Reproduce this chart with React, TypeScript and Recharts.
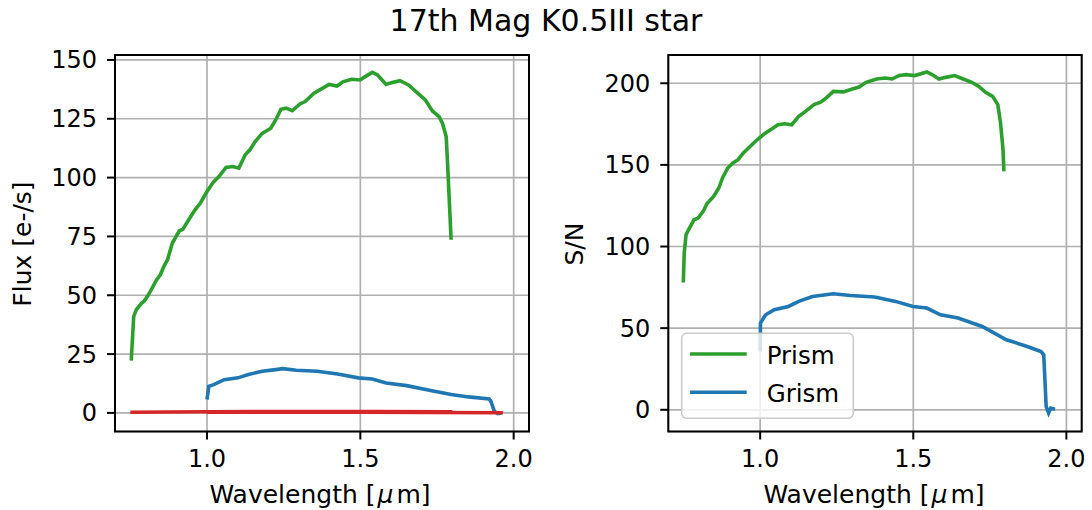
import { LineChart, Line, XAxis, YAxis, CartesianGrid, ReferenceArea } from 'recharts'

const FONT = '"DejaVu Sans", Verdana, sans-serif'
const GREEN = '#2ca02c'
const BLUE = '#1f77b4'
const RED = '#d62728'

// wavelength ticks shared by both panels
const waveTicks = [1.0, 1.5, 2.0]
const fluxTicks = [0, 25, 50, 75, 100, 125, 150]
const snTicks = [0, 50, 100, 150, 200]

// left panel: flux
const prismFluxWave = [0.753, 0.761, 0.77, 0.787, 0.795, 0.809, 0.836, 0.848, 0.859, 0.871, 0.887, 0.91, 0.921, 0.944, 0.961, 0.978, 1.0, 1.022, 1.039, 1.062, 1.084, 1.104, 1.124, 1.14, 1.157, 1.18, 1.208, 1.224, 1.241, 1.258, 1.278, 1.303, 1.32, 1.348, 1.376, 1.398, 1.424, 1.443, 1.471, 1.499, 1.516, 1.539, 1.556, 1.584, 1.601, 1.629, 1.657, 1.685, 1.712, 1.735, 1.757, 1.768, 1.78, 1.785, 1.791, 1.796]
const prismFlux = [22.2, 41, 44, 46.7, 47.5, 50.2, 56.6, 58.7, 62.2, 65, 72.2, 77.4, 78, 82.8, 86.3, 89.1, 94.1, 98.3, 100.4, 104.3, 104.7, 104, 109.6, 111.8, 115.3, 118.8, 121, 124.5, 129, 129.5, 128.4, 131.3, 132.3, 135.8, 137.9, 139.6, 138.9, 140.7, 141.8, 141.5, 142.9, 144.7, 143.6, 139.6, 140.3, 141.2, 139.4, 136.1, 133, 128.3, 125.9, 123, 117.4, 104.7, 87.7, 73.6]

const grismFluxWave = [1.0, 1.006, 1.022, 1.056, 1.101, 1.135, 1.18, 1.224, 1.247, 1.291, 1.359, 1.426, 1.493, 1.539, 1.584, 1.651, 1.729, 1.796, 1.853, 1.92, 1.926, 1.937, 1.948, 1.96]
const grismFlux = [5.7, 11.3, 12, 14.1, 14.9, 16.3, 17.7, 18.4, 18.8, 18.1, 17.7, 16.5, 14.9, 14.4, 12.7, 11.6, 9.5, 7.8, 6.8, 5.9, 4.9, 0.7, -0.3, 0]

const prismNoiseWave = [0.75, 1.0, 1.3, 1.55, 1.8]
const prismNoise = [0.3, 0.5, 0.6, 0.6, 0.5]
const grismNoiseWave = [1.0, 1.5, 1.965]
const grismNoise = [0.3, 0.3, 0.1]

// right panel: S/N
const prismSnWave = [0.749, 0.752, 0.758, 0.769, 0.784, 0.797, 0.814, 0.826, 0.848, 0.865, 0.877, 0.894, 0.911, 0.928, 0.945, 0.967, 0.99, 1.013, 1.035, 1.058, 1.08, 1.103, 1.126, 1.148, 1.176, 1.199, 1.216, 1.239, 1.272, 1.301, 1.323, 1.346, 1.38, 1.408, 1.431, 1.454, 1.476, 1.505, 1.544, 1.561, 1.584, 1.606, 1.635, 1.663, 1.691, 1.714, 1.736, 1.759, 1.776, 1.785, 1.793, 1.796]
const prismSn = [78, 96, 107.2, 111.3, 116.4, 117.4, 121.5, 126.2, 130.7, 135.8, 142, 148.1, 151.2, 153.2, 157.3, 161.3, 165.4, 168.9, 171.6, 174.6, 175.2, 174.6, 179.7, 182.8, 186.9, 188.5, 191, 195, 194.7, 196.5, 197.7, 200.6, 202.6, 203.2, 202.6, 204.8, 205.3, 204.7, 206.9, 205.3, 202.6, 203.6, 204.7, 202.6, 200.6, 198.1, 194.4, 192, 186.9, 175.7, 159.3, 146]

const grismSnWave = [1.0, 1.001, 1.018, 1.046, 1.092, 1.126, 1.171, 1.239, 1.295, 1.374, 1.442, 1.499, 1.544, 1.589, 1.646, 1.725, 1.804, 1.872, 1.917, 1.926, 1.934, 1.942, 1.949, 1.963]
const grismSn = [35.7, 53.1, 58.2, 61.3, 63.3, 66.4, 69.4, 71.1, 70, 69.1, 66.4, 63.3, 62.3, 58.2, 56.2, 51, 42.9, 38.8, 35.7, 33.7, 2, -2, 1, 0.4]

const pairs = (xs: number[], ys: number[]) => xs.map((x, i) => ({ x, y: ys[i] }))

const tickStyle = { fontSize: 24, fill: '#000', fontFamily: FONT }
const tickLine = { stroke: '#000', strokeWidth: 2 }

function Panel({ yDomain, yTicks, yWidth, rightMargin, width, series }: {
  yDomain: [number, number]
  yTicks: number[]
  yWidth: number
  rightMargin: number
  width: number
  series: { data: { x: number; y: number }[]; color: string }[]
}) {
  return (
    <LineChart width={width} height={510} margin={{ top: 55, right: rightMargin, bottom: 0, left: 0 }}>
      <CartesianGrid stroke="#b0b0b0" strokeWidth={1.7} />
      <XAxis
        type="number"
        dataKey="x"
        domain={[0.7, 2.05]}
        ticks={waveTicks}
        tickFormatter={(v: number) => v.toFixed(1)}
        allowDataOverflow
        height={78.5}
        tickSize={8}
        tickMargin={10}
        tick={tickStyle}
        tickLine={tickLine}
        axisLine={false}
      />
      <YAxis
        type="number"
        domain={yDomain}
        ticks={yTicks}
        allowDataOverflow
        width={yWidth}
        tickSize={8}
        tickMargin={10}
        tick={tickStyle}
        tickLine={tickLine}
        axisLine={false}
      />
      {series.map((s, i) => (
        <Line
          key={i}
          data={s.data}
          dataKey="y"
          type="linear"
          stroke={s.color}
          strokeWidth={3.6}
          dot={false}
          activeDot={false}
          isAnimationActive={false}
        />
      ))}
      <ReferenceArea
        x1={0.7}
        x2={2.05}
        y1={yDomain[0]}
        y2={yDomain[1]}
        fill="none"
        stroke="#000"
        strokeWidth={2}
        ifOverflow="visible"
      />
    </LineChart>
  )
}

function WaveLabel({ x }: { x: number }) {
  return (
    <text x={x} y={503} fontSize={25} textAnchor="middle">
      Wavelength [<tspan dx={2} fontStyle="italic">μ</tspan><tspan dx={3}>m]</tspan>
    </text>
  )
}

export default function App() {
  return (
    <div style={{ position: 'absolute', left: 0, top: 0, width: 1092, height: 510, background: '#fff', fontFamily: FONT }}>
      <div style={{ position: 'absolute', left: 0, top: 0 }}>
        <Panel
          width={560}
          yDomain={[-7.9, 152.1]}
          yTicks={fluxTicks}
          yWidth={115}
          rightMargin={31}
          series={[
            { data: pairs(prismFluxWave, prismFlux), color: GREEN },
            { data: pairs(grismFluxWave, grismFlux), color: BLUE },
            { data: pairs(prismNoiseWave, prismNoise), color: RED },
            { data: pairs(grismNoiseWave, grismNoise), color: RED },
          ]}
        />
      </div>
      <div style={{ position: 'absolute', left: 540, top: 0 }}>
        <Panel
          width={552}
          yDomain={[-13.3, 217.3]}
          yTicks={snTicks}
          yWidth={128.3}
          rightMargin={10.3}
          series={[
            { data: pairs(prismSnWave, prismSn), color: GREEN },
            { data: pairs(grismSnWave, grismSn), color: BLUE },
          ]}
        />
      </div>
      <svg width={1092} height={510} style={{ position: 'absolute', left: 0, top: 0, pointerEvents: 'none' }} fontFamily={FONT}>
        <text x={546} y={31} fontSize={30} textAnchor="middle">17th Mag K0.5III star</text>
        <WaveLabel x={320} />
        <WaveLabel x={874} />
        <text x={31} y={244} fontSize={25} textAnchor="middle" transform="rotate(-90 31 244)">Flux [e-/s]</text>
        <text x={583} y={244} fontSize={25} textAnchor="middle" transform="rotate(-90 583 244)">S/N</text>
        <rect x={681.7} y={333.3} width={171.6} height={85} rx={5} fill="#fff" fillOpacity={0.8} stroke="#cccccc" strokeWidth={1.6} />
        <line x1={690} x2={746.7} y1={354} y2={354} stroke={GREEN} strokeWidth={3.6} />
        <line x1={690} x2={746.7} y1={392.3} y2={392.3} stroke={BLUE} strokeWidth={3.6} />
        <text x={766.7} y={364.3} fontSize={24.5}>Prism</text>
        <text x={766.7} y={402.3} fontSize={24.5}>Grism</text>
      </svg>
    </div>
  )
}
